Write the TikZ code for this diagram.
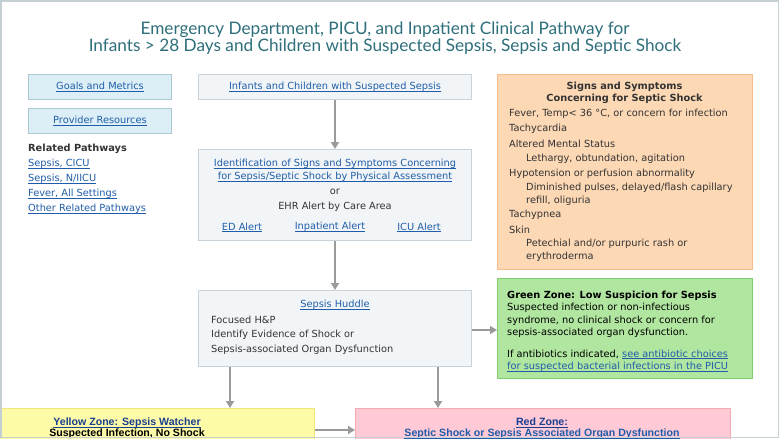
\documentclass[tikz,border=0pt]{standalone}
\usepackage{fontspec}
\setmainfont{DejaVu Sans}
\newfontfamily\titlefont{Lato}
\newfontfamily\zonefont{Liberation Sans}
\usetikzlibrary{arrows.meta}
\definecolor{titlecol}{HTML}{2E6F7B}
\definecolor{linkcol}{HTML}{1F5DAA}
\definecolor{zonelink}{HTML}{1B3F8F}
\definecolor{txt}{HTML}{333333}
\definecolor{framecol}{HTML}{C3CFD2}
\definecolor{navfill}{HTML}{DDEFF6}
\definecolor{navdraw}{HTML}{A9CAD5}
\definecolor{stepfill}{HTML}{F2F5F7}
\definecolor{stepdraw}{HTML}{C8D4D9}
\definecolor{orfill}{HTML}{FDD8B5}
\definecolor{ordraw}{HTML}{F6BD88}
\definecolor{grfill}{HTML}{B0E6A0}
\definecolor{grdraw}{HTML}{80CF6E}
\definecolor{yefill}{HTML}{FDFAA8}
\definecolor{yedraw}{HTML}{F0E67A}
\definecolor{rdfill}{HTML}{FFC9D6}
\definecolor{rddraw}{HTML}{F5A9B1}
\definecolor{arrcol}{HTML}{9A9A9A}
\newcommand\myul[1]{\leavevmode\setbox0\hbox{#1}\rlap{\rule[-1.7pt]{\wd0}{0.6pt}}\box0}
\newcommand\lnk[1]{\textcolor{linkcol}{\myul{#1}}}
\begin{document}
\begin{tikzpicture}[x=1pt,y=-1pt,
  every node/.style={font=\fontsize{9.8}{15}\selectfont, text=txt, inner sep=0pt},
  navbox/.style={draw=navdraw, fill=navfill, line width=1pt, anchor=north west},
  stepbox/.style={draw=stepdraw, fill=stepfill, line width=1pt, anchor=north west},
  orbox/.style={draw=ordraw, fill=orfill, line width=1pt, anchor=north west},
  grbox/.style={draw=grdraw, fill=grfill, line width=1pt, anchor=north west},
  yebox/.style={draw=yedraw, fill=yefill, line width=1pt, anchor=north west},
  rdbox/.style={draw=rddraw, fill=rdfill, line width=1pt, anchor=north west},
  lt/.style={anchor=west, yshift=-1.2pt},
  ct/.style={anchor=center, yshift=-1.2pt},
  arr/.style={draw=arrcol, line width=1.5pt, -{Triangle[width=8pt,length=7pt]}, arrcol},
  zone/.style={font=\zonefont\bfseries\fontsize{10.6}{12}\selectfont}
]
\useasboundingbox (0,0) rectangle (780,439);
\clip (0,0) rectangle (780,439);
\fill[white] (0,0) rectangle (780,439);

% title
\node[align=center, text=titlecol, font=\titlefont\fontsize{17.2}{15}\selectfont] (title) at (385,38.5)
  {Emergency Department, PICU, and Inpatient Clinical Pathway for\\Infants > 28 Days and Children with Suspected Sepsis, Sepsis and Septic Shock};

% left column
\node[navbox, minimum width=143pt, minimum height=25pt] (goals) at (28,74) {\lnk{Goals and Metrics}};
\node[navbox, minimum width=143pt, minimum height=25pt] (prov) at (28,108) {\lnk{Provider Resources}};
\node[lt, font=\bfseries\fontsize{9.8}{15}\selectfont] (relp) at (28,148) {Related Pathways};
\node[lt] (rp1) at (28,163) {\lnk{Sepsis, CICU}};
\node[lt] (rp2) at (28,178) {\lnk{Sepsis, N/IICU}};
\node[lt] (rp3) at (28,193) {\lnk{Fever, All Settings}};
\node[lt] (rp4) at (28,208) {\lnk{Other Related Pathways}};

% center column
\node[stepbox, minimum width=273pt, minimum height=25pt] (inf) at (198,74) {\lnk{Infants and Children with Suspected Sepsis}};
\node[stepbox, minimum width=273pt, minimum height=91pt] (ident) at (198,149) {};
\node[ct] (id1) at (335,163) {\lnk{Identification of Signs and Symptoms Concerning}};
\node[ct] (id2) at (335,175.5) {\lnk{for Sepsis/Septic Shock by Physical Assessment}};
\node[ct] (id3) at (335,191) {or};
\node[ct] (id4) at (335,206) {EHR Alert by Care Area};
\node[ct] (ed) at (242,226) {\lnk{ED Alert}};
\node[ct] (inp) at (330,226) {\lnk{Inpatient Alert}};
\node[ct] (icu) at (419,226) {\lnk{ICU Alert}};

\node[stepbox, minimum width=273pt, minimum height=76pt] (hud) at (198,290) {};
\node[ct] (h1) at (335,304) {\lnk{Sepsis Huddle}};
\node[lt] (h2) at (211,319) {Focused H\&P};
\node[lt] (h3) at (211,334) {Identify Evidence of Shock or};
\node[lt] (h4) at (211,349) {Sepsis-associated Organ Dysfunction};

% right column
\node[orbox, minimum width=255pt, minimum height=195pt] (signs) at (497,74) {};
\node[ct, font=\bfseries\fontsize{9.8}{15}\selectfont] (s0a) at (624.5,86) {Signs and Symptoms};
\node[ct, font=\bfseries\fontsize{9.8}{15}\selectfont] (s0b) at (624.5,98) {Concerning for Septic Shock};
\node[lt] (s1) at (509,113) {Fever, Temp< 36 °C, or concern for infection};
\node[lt] (s2) at (509,128) {Tachycardia};
\node[lt] (s3) at (509,143) {Altered Mental Status};
\node[lt] (s4) at (526,158) {Lethargy, obtundation, agitation};
\node[lt] (s5) at (509,173) {Hypotension or perfusion abnormality};
\node[lt] (s6) at (526,187) {Diminished pulses, delayed/flash capillary};
\node[lt] (s7) at (526,199.5) {refill, oliguria};
\node[lt] (s8) at (509,214) {Tachypnea};
\node[lt] (s9) at (509,229) {Skin};
\node[lt] (s10) at (526,243) {Petechial and/or purpuric rash or};
\node[lt] (s11) at (526,255.5) {erythroderma};

\node[grbox, minimum width=255pt, minimum height=100pt] (green) at (497,278) {};
\node[lt, text=black, font=\bfseries\fontsize{9.8}{15}\selectfont] (g1) at (507,294.5) {Green Zone: Low Suspicion for Sepsis};
\node[lt, text=black] (g2) at (507,307) {Suspected infection or non-infectious};
\node[lt, text=black] (g3) at (507,319.5) {syndrome, no clinical shock or concern for};
\node[lt, text=black] (g4) at (507,332) {sepsis-associated organ dysfunction.};
\node[lt, text=black] (g5) at (507,353) {If antibiotics indicated, \lnk{see antibiotic choices}};
\node[lt, text=black] (g6) at (507,365.5) {\lnk{for suspected bacterial infections in the PICU}};

% bottom zones
\node[yebox, minimum width=314pt, minimum height=60pt] (yellow) at (0,408) {};
\node[ct, zone, text=zonelink] (y1) at (127,421.5) {\myul{Yellow Zone: Sepsis Watcher}};
\node[ct, zone, text=black] (y2) at (127,432.5) {Suspected Infection, No Shock};
\node[rdbox, minimum width=375pt, minimum height=60pt] (red) at (355,408) {};
\node[ct, zone, text=zonelink] (r1) at (542,421.5) {\myul{Red Zone:}};
\node[ct, zone, text=linkcol] (r2) at (542,432.5) {\myul{Septic Shock or Sepsis Associated Organ Dysfunction}};

% connectors
\coordinate (ya) at (230,0);
\coordinate (ra) at (438,0);
\coordinate (ha) at (0,330);
\coordinate (za) at (0,430);
\draw[arr] (inf.south) -- (ident.north);
\draw[arr] (ident.south) -- (hud.north);
\draw[arr] (hud.east |- ha) -- (green.west |- ha);
\draw[arr] (hud.south -| ya) -- (yellow.north -| ya);
\draw[arr] (hud.south -| ra) -- (red.north -| ra);
\draw[arr] (yellow.east |- za) -- (red.west |- za);

% frame
\draw[framecol, line width=1.6pt] (0.8,0.8) rectangle (778.6,437.6);
\end{tikzpicture}
\end{document}
